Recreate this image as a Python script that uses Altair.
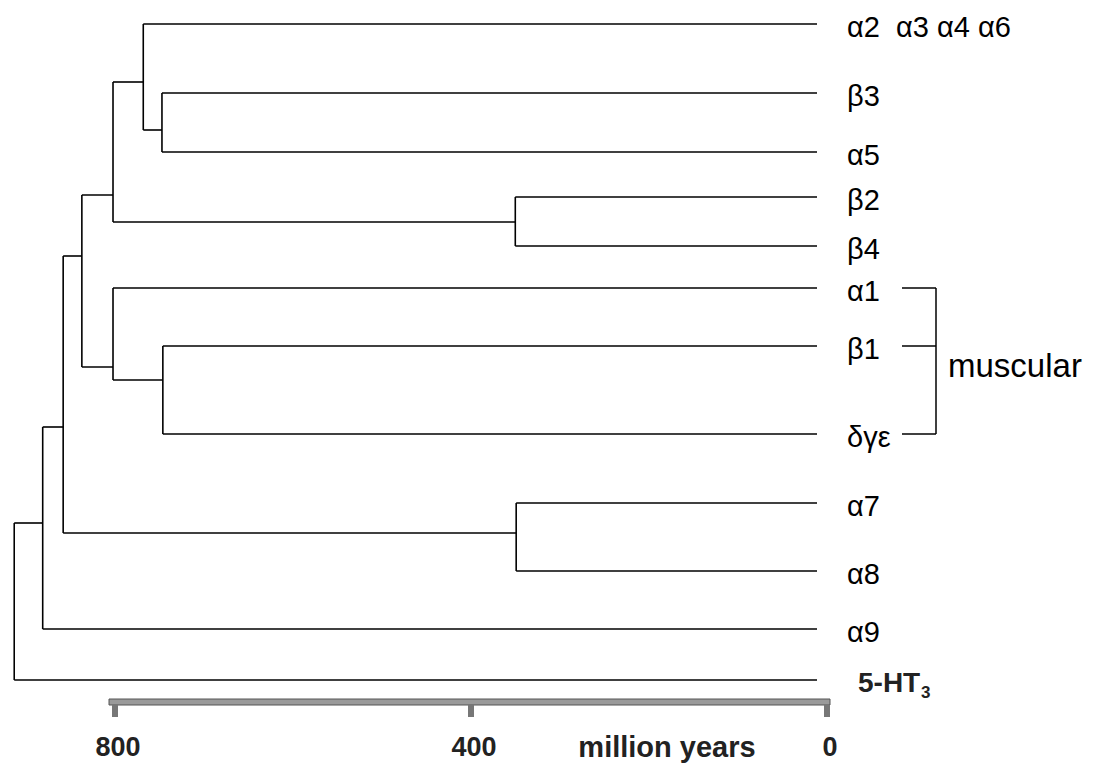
import altair as alt
import pandas as pd

# ---- data ----
leaf_names = ["α2\u00a0 α3 α4 α6", "β3", "α5", "β2", "β4", "α1", "β1", "δγε", "α7", "α8", "α9", "5-HT"]
leaf_y = [24, 93, 152, 197, 246, 288, 346, 434, 503, 571, 629, 680]

node_names = ["B", "A", "P24", "C", "F", "E", "D", "P78", "G", "H", "R"]
node_age = [736, 757, 339, 791, 735, 791, 826, 338, 847, 870, 902]
node_y = [130, 82, 222, 195, 380, 367, 256, 533, 427, 523, 600]
node_children = [
    ("β3", "α5"), ("α2\u00a0 α3 α4 α6", "B"), ("β2", "β4"), ("A", "P24"),
    ("β1", "δγε"), ("α1", "F"), ("C", "E"), ("α7", "α8"),
    ("D", "P78"), ("G", "α9"), ("H", "5-HT"),
]
muscular_group = ["α1", "β1", "δγε"]

scale_ticks = [800, 400, 0]
scale_labels = ["800", "400", "0"]

# ---- build tree segments ----
pos = {n: (0, y) for n, y in zip(leaf_names, leaf_y)}
for n, a, y in zip(node_names, node_age, node_y):
    pos[n] = (a, y)

segs = []
for n, a, kids in zip(node_names, node_age, node_children):
    ys_ = [pos[k][1] for k in kids]
    segs.append({"x": a, "x2": a, "y": min(ys_), "y2": max(ys_)})
    for k in kids:
        segs.append({"x": a, "x2": pos[k][0], "y": pos[k][1], "y2": pos[k][1]})
seg_df = pd.DataFrame(segs)

leaf_df = pd.DataFrame({"name": leaf_names, "y": leaf_y, "age": [0] * len(leaf_names)})
main_labels = leaf_df[leaf_df["name"] != "5-HT"]
ht_label = leaf_df[leaf_df["name"] == "5-HT"]

mus_df = leaf_df[leaf_df["name"].isin(muscular_group)]
mus_span = pd.DataFrame({"y": [mus_df["y"].min()], "y2": [mus_df["y"].max()],
                         "ym": [(mus_df["y"].min() + mus_df["y"].max()) / 2 + 6],
                         "t": ["muscular"]})

tick_df = pd.DataFrame({"v": scale_ticks, "lab": scale_labels})
bar_df = pd.DataFrame({"v": [max(scale_ticks)], "v2": [min(scale_ticks)]})

FONT = "Liberation Sans"
W, H = 1087, 758
xs = alt.Scale(domain=[900, 0], range=[8, 809])
xb = alt.Scale(domain=[900, 0], range=[18, 819])
ys = alt.Scale(domain=[8, 766], range=[0, H])

tree = alt.Chart(seg_df).mark_rule(color="black", strokeWidth=1.6).encode(
    x=alt.X("x:Q", scale=xs, axis=None),
    x2="x2:Q",
    y=alt.Y("y:Q", scale=ys, axis=None),
    y2="y2:Q",
)

labels = alt.Chart(main_labels).mark_text(
    align="left", baseline="middle", dx=30, dy=4, fontSize=29, font=FONT, color="black"
).encode(
    x=alt.X("age:Q", scale=xs, axis=None),
    y=alt.Y("y:Q", scale=ys, axis=None),
    text="name:N",
)

ht = alt.Chart(ht_label).mark_text(
    align="left", baseline="middle", dx=41, dy=4, fontSize=28, fontWeight="bold",
    font=FONT, color="#222"
).encode(
    x=alt.X("age:Q", scale=xs, axis=None),
    y=alt.Y("y:Q", scale=ys, axis=None),
    text="name:N",
)
ht_sub = alt.Chart(ht_label).mark_text(
    align="left", baseline="middle", dx=104, dy=13, fontSize=17, fontWeight="bold",
    font=FONT, color="#222"
).encode(
    x=alt.X("age:Q", scale=xs, axis=None),
    y=alt.Y("y:Q", scale=ys, axis=None),
    text=alt.value("3"),
)

br_h = alt.Chart(mus_df).mark_rule(color="black", strokeWidth=1.5).encode(
    x=alt.value(894), x2=alt.value(928),
    y=alt.Y("y:Q", scale=ys, axis=None),
)
br_v = alt.Chart(mus_span).mark_rule(color="black", strokeWidth=1.5).encode(
    x=alt.value(928),
    y=alt.Y("y:Q", scale=ys, axis=None),
    y2="y2:Q",
)
mus_text = alt.Chart(mus_span).mark_text(
    align="left", baseline="middle", fontSize=33, font=FONT, color="black"
).encode(
    x=alt.value(940),
    y=alt.Y("ym:Q", scale=ys, axis=None),
    text="t:N",
)

bar = alt.Chart(bar_df).mark_rect(
    fill="#9a9a9a", stroke="#555555", strokeWidth=1, xOffset=-6, x2Offset=3
).encode(
    x=alt.X("v:Q", scale=xb, axis=None),
    x2="v2:Q",
    y=alt.value(691), y2=alt.value(697),
)
ticks = alt.Chart(tick_df).mark_rule(color="#777777", strokeWidth=6).encode(
    x=alt.X("v:Q", scale=xb, axis=None),
    y=alt.value(697), y2=alt.value(709),
)
tick_labels = alt.Chart(tick_df).mark_text(
    align="center", baseline="middle", dx=3, fontSize=27, fontWeight="bold",
    font=FONT, color="#222"
).encode(
    x=alt.X("v:Q", scale=xb, axis=None),
    y=alt.value(740),
    text="lab:N",
)
unit = alt.Chart(pd.DataFrame({"t": ["million years"]})).mark_text(
    align="center", baseline="middle", fontSize=29, fontWeight="bold",
    font=FONT, color="#222"
).encode(
    x=alt.value(659), y=alt.value(740), text="t:N",
)

chart = alt.layer(
    tree, labels, ht, ht_sub, br_h, br_v, mus_text, bar, ticks, tick_labels, unit
).resolve_scale(x="independent", y="independent").properties(
    width=W, height=H, autosize=alt.AutoSizeParams(type="none"), padding=0,
    background="white",
).configure_view(stroke=None)

chart.save("out.html", embed_options={"renderer": "svg", "actions": False})
